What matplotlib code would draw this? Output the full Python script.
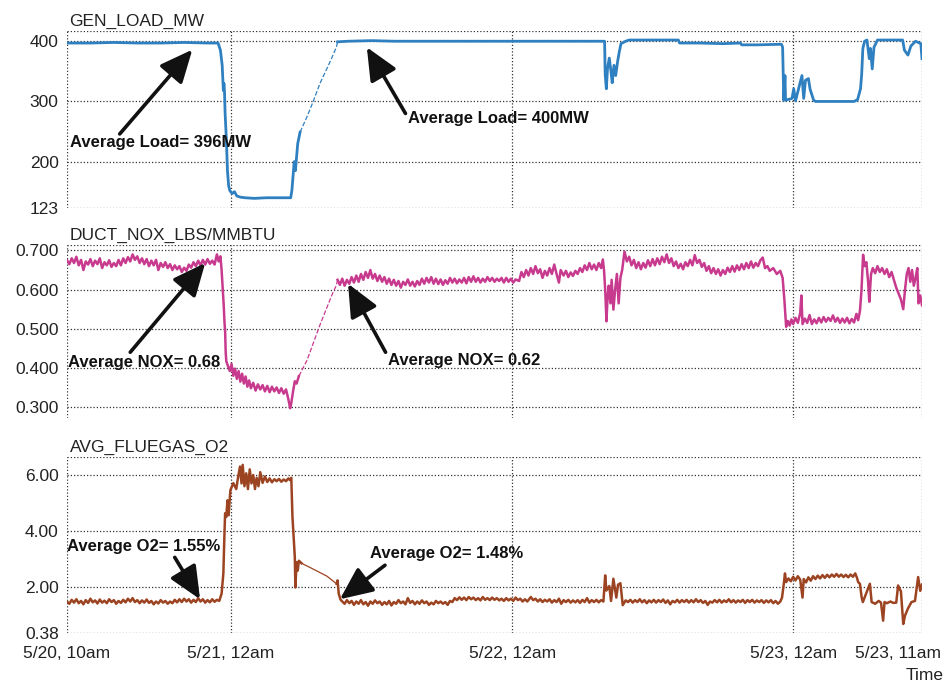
import numpy as np
import matplotlib
matplotlib.use("Agg")
import matplotlib.pyplot as plt
from matplotlib.transforms import ScaledTranslation

plt.rcParams['font.family'] = ['Liberation Sans', 'DejaVu Sans']

# hours since 5/20 10am
time_ticks = [0, 14, 38, 62, 73]
time_labels = ['5/20, 10am', '5/21, 12am', '5/22, 12am', '5/23, 12am', '5/23, 11am']

# ---- GEN_LOAD_MW ----
load_h = [0, 2, 4, 6, 8, 10, 12, 12.9, 13.1, 13.25, 13.35, 13.4, 13.45, 13.5, 13.6, 13.7, 13.8, 13.9,
          14.1, 14.3, 14.5, 14.8, 15.2, 16, 17, 18, 19.1, 19.2, 19.4, 19.5, 19.7, 19.9,
          20.5, 21.0, 21.6, 22.2, 22.6, 23.0, 23.1,
          24, 26, 28, 30, 32, 34, 36, 38, 40, 42, 44, 45.9,
          45.95, 46.05, 46.15, 46.3, 46.45, 46.55, 46.7, 46.85, 47.0, 47.15, 47.3, 47.7, 48, 50, 52.2,
          52.3, 54, 56, 57.5, 57.6, 59, 61.0, 61.1, 61.2, 61.3, 61.35, 61.9, 62.05, 62.2, 62.75, 62.9,
          63.05, 63.3, 63.45, 63.75, 63.9, 65, 66, 67.2, 67.5, 67.75, 67.85, 67.95, 68.1, 68.3, 68.5,
          68.6, 68.75, 68.9, 69.2, 71, 71.35, 71.5, 71.8, 72.05, 72.45, 72.9, 73.0]
load_mw = [397, 397, 398, 397, 397, 398, 397, 397, 385, 360, 318, 330, 316, 280, 240, 185, 160, 152,
           147, 150, 143, 141, 140, 139, 140, 140, 140, 152, 200, 185, 230, 249,
           275, 299, 330, 355, 372, 390, 399,
           400, 401, 400, 400, 400, 400, 400, 400, 400, 400, 400, 400,
           345, 321, 355, 372, 349, 331, 360, 343, 365, 382, 396, 400, 402, 402, 402,
           397, 397, 396, 397, 394, 394, 395, 390, 302, 343, 302, 305, 321, 301, 343, 305,
           335, 338, 320, 302, 300, 300, 300, 300, 303, 321, 345, 388, 400, 402, 371,
           388, 354, 390, 402, 402, 402, 385, 377, 392, 400, 396, 371]

# ---- DUCT_NOX_LBS/MMBTU ----
nox_h = [0, 0.2, 0.4, 0.6, 0.8, 1.0, 1.2, 1.4, 1.6, 1.8, 2.0, 2.2, 2.4, 2.6, 2.8, 3.0, 3.2, 3.4, 3.6, 3.8,
         4.0, 4.2, 4.4, 4.6, 4.8, 5.0, 5.2, 5.4, 5.6, 5.8, 6.0, 6.2, 6.4, 6.6, 6.8, 7.0, 7.2, 7.4, 7.6, 7.8,
         8.0, 8.2, 8.4, 8.6, 8.8, 9.0, 9.2, 9.4, 9.6, 9.8, 10.0, 10.2, 10.4, 10.6, 10.8, 11.0, 11.2, 11.4,
         11.6, 11.8, 12.0, 12.2, 12.4, 12.6, 12.8, 12.95, 13.1, 13.2, 13.3, 13.38, 13.45, 13.5, 13.55, 13.6,
         13.75, 13.9, 14.05, 14.2, 14.35, 14.5, 14.65, 14.8, 14.95, 15.1, 15.25, 15.4, 15.55, 15.7, 15.9,
         16.1, 16.3, 16.5, 16.7, 16.9, 17.1, 17.3, 17.5, 17.7, 17.9, 18.1, 18.3, 18.5, 18.7, 18.9, 19.05,
         19.15, 19.3, 19.45, 19.6, 19.8,
         20.5, 21.0, 21.6, 22.2, 22.6, 23.0, 23.1,
         23.3, 23.5, 23.7, 23.9, 24.1, 24.3, 24.5, 24.7, 24.9, 25.1, 25.3, 25.5, 25.7, 25.9, 26.1, 26.3,
         26.5, 26.7, 26.9, 27.1, 27.3, 27.5, 27.7, 27.9, 28.1, 28.3, 28.5, 28.7, 28.9, 29.1, 29.3, 29.5,
         29.7, 29.9, 30.1, 30.3, 30.5, 30.7, 30.9, 31.1, 31.3, 31.5, 31.7, 31.9, 32.1, 32.3, 32.5, 32.7,
         32.9, 33.1, 33.3, 33.5, 33.7, 33.9, 34.1, 34.3, 34.5, 34.7, 34.9, 35.1, 35.3, 35.5, 35.7, 35.9,
         36.1, 36.3, 36.5, 36.7, 36.9, 37.1, 37.3, 37.5, 37.7, 37.9, 38.1, 38.3, 38.6, 38.8, 39.0, 39.2,
         39.4, 39.6, 39.8, 40.0, 40.2, 40.4, 40.6, 40.8, 41.0, 41.2, 41.4, 41.6, 41.8, 42.0, 42.15, 42.4,
         42.6, 42.8, 43.0, 43.2, 43.4, 43.6, 43.8, 44.0, 44.2, 44.4, 44.6, 44.8, 45.0, 45.2, 45.4, 45.6,
         45.75, 45.85, 45.95, 46.06, 46.15, 46.25, 46.4, 46.5, 46.65, 46.8, 46.95, 47.1, 47.25, 47.4, 47.6,
         47.8, 48.0, 48.2, 48.4, 48.6, 48.8, 49.0, 49.2, 49.4, 49.6, 49.8, 50.0, 50.2, 50.4, 50.6, 50.8,
         51.0, 51.2, 51.4, 51.6, 51.8, 52.0, 52.2, 52.4, 52.6, 52.8, 53.0, 53.2, 53.4, 53.6, 53.8, 54.0,
         54.2, 54.4, 54.6, 54.8, 55.0, 55.2, 55.4, 55.6, 55.8, 56.0, 56.2, 56.4, 56.6, 56.8, 57.0, 57.2,
         57.4, 57.6, 57.8, 58.0, 58.2, 58.4, 58.6, 58.8, 59.0, 59.2, 59.4, 59.6, 59.8, 60.0, 60.3, 60.6,
         60.9, 61.1, 61.25, 61.4, 61.55, 61.7, 61.85, 62.0, 62.2, 62.4, 62.6, 62.7, 62.8, 63.0, 63.2, 63.4,
         63.6, 63.8, 64.0, 64.2, 64.4, 64.6, 64.8, 65.0, 65.2, 65.4, 65.6, 65.8, 66.0, 66.2, 66.4, 66.6,
         66.8, 67.0, 67.2, 67.4, 67.55, 67.7, 67.83, 67.97, 68.1, 68.25, 68.4, 68.5, 68.65, 68.8, 69.0,
         69.2, 69.4, 69.6, 69.8, 70.0, 70.2, 70.4, 70.6, 70.8, 71.0, 71.2, 71.4, 71.55, 71.7, 71.85, 72.0,
         72.15, 72.3, 72.45, 72.6, 72.7, 72.85, 73.0]
nox_val = [0.675, 0.665, 0.680, 0.668, 0.684, 0.662, 0.676, 0.650, 0.672, 0.664, 0.678, 0.660, 0.674, 0.665,
           0.680, 0.655, 0.670, 0.662, 0.675, 0.658, 0.668, 0.660, 0.676, 0.662, 0.680, 0.668, 0.683, 0.672,
           0.690, 0.676, 0.685, 0.668, 0.680, 0.665, 0.678, 0.660, 0.674, 0.662, 0.676, 0.650, 0.668, 0.658,
           0.670, 0.655, 0.665, 0.650, 0.662, 0.652, 0.660, 0.645, 0.656, 0.648, 0.664, 0.656, 0.670, 0.660,
           0.674, 0.662, 0.676, 0.664, 0.678, 0.666, 0.674, 0.664, 0.690, 0.672, 0.685, 0.650, 0.600, 0.560,
           0.515, 0.494, 0.440, 0.417, 0.404, 0.392, 0.410, 0.380, 0.398, 0.372, 0.392, 0.365, 0.385, 0.360,
           0.378, 0.352, 0.368, 0.348, 0.362, 0.342, 0.358, 0.345, 0.356, 0.340, 0.354, 0.338, 0.352, 0.340,
           0.350, 0.336, 0.348, 0.334, 0.345, 0.320, 0.297, 0.310, 0.340, 0.366, 0.360, 0.379,
           0.420, 0.461, 0.510, 0.555, 0.585, 0.611, 0.625,
           0.612, 0.628, 0.610, 0.625, 0.615, 0.632, 0.618, 0.636, 0.620, 0.640, 0.625, 0.645, 0.630, 0.650,
           0.628, 0.640, 0.622, 0.636, 0.620, 0.632, 0.615, 0.628, 0.612, 0.625, 0.610, 0.622, 0.605, 0.620,
           0.612, 0.626, 0.610, 0.620, 0.608, 0.622, 0.612, 0.628, 0.615, 0.630, 0.618, 0.632, 0.615, 0.628,
           0.614, 0.626, 0.612, 0.624, 0.615, 0.630, 0.618, 0.628, 0.616, 0.626, 0.618, 0.630, 0.616, 0.632,
           0.620, 0.634, 0.620, 0.630, 0.618, 0.628, 0.620, 0.632, 0.622, 0.630, 0.620, 0.628, 0.622, 0.630,
           0.618, 0.630, 0.620, 0.628, 0.618, 0.626, 0.622, 0.645, 0.632, 0.650, 0.636, 0.655, 0.640, 0.660,
           0.642, 0.652, 0.630, 0.648, 0.636, 0.655, 0.640, 0.664, 0.640, 0.618, 0.650, 0.636, 0.648, 0.632,
           0.644, 0.635, 0.648, 0.640, 0.655, 0.645, 0.662, 0.650, 0.668, 0.652, 0.664, 0.650, 0.668, 0.655,
           0.677, 0.650, 0.600, 0.519, 0.579, 0.610, 0.565, 0.625, 0.549, 0.600, 0.640, 0.565, 0.630, 0.650,
           0.697, 0.672, 0.684, 0.662, 0.676, 0.655, 0.670, 0.652, 0.668, 0.656, 0.675, 0.660, 0.678, 0.662,
           0.680, 0.665, 0.684, 0.670, 0.690, 0.668, 0.680, 0.660, 0.672, 0.655, 0.666, 0.652, 0.670, 0.660,
           0.676, 0.662, 0.688, 0.668, 0.676, 0.658, 0.668, 0.648, 0.660, 0.642, 0.655, 0.640, 0.652, 0.636,
           0.650, 0.640, 0.656, 0.645, 0.660, 0.646, 0.662, 0.650, 0.665, 0.652, 0.668, 0.655, 0.672, 0.656,
           0.668, 0.660, 0.675, 0.682, 0.655, 0.660, 0.648, 0.655, 0.640, 0.648, 0.630, 0.574, 0.505, 0.520,
           0.508, 0.524, 0.512, 0.528, 0.515, 0.540, 0.585, 0.512, 0.526, 0.515, 0.535, 0.512, 0.524, 0.514,
           0.528, 0.516, 0.530, 0.518, 0.528, 0.520, 0.534, 0.518, 0.528, 0.515, 0.526, 0.516, 0.528, 0.514,
           0.525, 0.516, 0.538, 0.522, 0.545, 0.596, 0.689, 0.660, 0.670, 0.620, 0.569, 0.640, 0.655, 0.642,
           0.660, 0.645, 0.655, 0.640, 0.652, 0.632, 0.645, 0.625, 0.605, 0.590, 0.575, 0.550, 0.600, 0.640,
           0.655, 0.620, 0.650, 0.610, 0.630, 0.655, 0.565, 0.585, 0.560]

# ---- AVG_FLUEGAS_O2 ----
o2_h = [0, 0.2, 0.4, 0.6, 0.8, 1.0, 1.2, 1.4, 1.6, 1.8, 2.0, 2.2, 2.4, 2.6, 2.8, 3.0, 3.2, 3.4, 3.6, 3.8,
        4.0, 4.2, 4.4, 4.6, 4.8, 5.0, 5.2, 5.4, 5.6, 5.8, 6.0, 6.2, 6.4, 6.6, 6.8, 7.0, 7.2, 7.4, 7.6, 7.8,
        8.0, 8.2, 8.4, 8.6, 8.8, 9.0, 9.2, 9.4, 9.6, 9.8, 10.0, 10.2, 10.4, 10.6, 10.8, 11.0, 11.2, 11.4,
        11.6, 11.8, 12.0, 12.2, 12.4, 12.6, 12.8, 13.0, 13.2, 13.35, 13.45, 13.5, 13.6, 13.7, 13.8, 13.95,
        14.2, 14.45, 14.6, 14.77, 14.9, 15.0, 15.15, 15.3, 15.45, 15.6, 15.75, 15.9, 16.05, 16.19, 16.35,
        16.5, 16.7, 16.9, 17.1, 17.3, 17.5, 17.7, 17.9, 18.1, 18.3, 18.5, 18.7, 18.9, 19.03, 19.15, 19.25,
        19.35, 19.45, 19.5, 19.6, 19.7, 19.8, 20.03,
        20.8, 21.5, 22.2, 22.8, 23.02,
        23.1, 23.2, 23.35, 23.5, 23.7, 23.9, 24.1, 24.3, 24.5, 24.7, 24.9, 25.1, 25.3, 25.5, 25.7, 25.9,
        26.1, 26.3, 26.5, 26.7, 26.9, 27.1, 27.3, 27.5, 27.7, 27.9, 28.1, 28.3, 28.5, 28.7, 28.9, 29.1,
        29.3, 29.5, 29.7, 29.9, 30.1, 30.3, 30.5, 30.7, 30.9, 31.1, 31.3, 31.5, 31.7, 31.9, 32.1, 32.3,
        32.5, 32.7, 32.9, 33.1, 33.3, 33.5, 33.7, 33.9, 34.1, 34.3, 34.5, 34.7, 34.9, 35.1, 35.3, 35.5,
        35.7, 35.9, 36.1, 36.3, 36.5, 36.7, 36.9, 37.1, 37.3, 37.5, 37.7, 37.9, 38.1, 38.3, 38.5, 38.7,
        38.9, 39.1, 39.3, 39.6, 39.8, 40.0, 40.2, 40.4, 40.6, 40.8, 41.0, 41.2, 41.4, 41.6, 41.8, 42.0,
        42.2, 42.4, 42.6, 42.8, 43.0, 43.2, 43.4, 43.6, 43.8, 44.0, 44.2, 44.4, 44.6, 44.8, 45.0, 45.2,
        45.4, 45.6, 45.8, 45.95, 46.05, 46.3, 46.45, 46.65, 46.9, 47.05, 47.25, 47.45, 47.7, 47.9, 48.1,
        48.3, 48.5, 48.7, 48.9, 49.1, 49.3, 49.5, 49.7, 49.9, 50.1, 50.3, 50.5, 50.7, 50.9, 51.1, 51.3,
        51.5, 51.7, 51.9, 52.1, 52.3, 52.5, 52.7, 52.9, 53.1, 53.3, 53.5, 53.7, 53.9, 54.1, 54.3, 54.5,
        54.7, 54.9, 55.1, 55.3, 55.5, 55.7, 55.9, 56.1, 56.3, 56.5, 56.7, 56.9, 57.1, 57.3, 57.5, 57.7,
        57.9, 58.1, 58.3, 58.5, 58.7, 58.9, 59.1, 59.3, 59.5, 59.7, 59.9, 60.1, 60.3, 60.5, 60.7, 60.9,
        61.05, 61.2, 61.3, 61.4, 61.6, 61.8, 62.0, 62.2, 62.4, 62.6, 62.8, 62.9, 63.1, 63.3, 63.5, 63.7,
        63.9, 64.1, 64.3, 64.5, 64.7, 64.9, 65.1, 65.3, 65.5, 65.7, 65.9, 66.1, 66.3, 66.5, 66.7, 66.9,
        67.1, 67.3, 67.45, 67.55, 67.7, 67.85, 67.95, 68.2, 68.55, 68.7, 69.0, 69.3, 69.5, 69.68, 69.8,
        70.0, 70.3, 70.55, 70.8, 70.96, 71.2, 71.4, 71.55, 71.8, 72.1, 72.4, 72.67, 72.85, 73.0]
o2_val = [1.50, 1.42, 1.56, 1.46, 1.58, 1.44, 1.52, 1.40, 1.55, 1.45, 1.60, 1.47, 1.54, 1.43, 1.57, 1.46,
          1.53, 1.44, 1.58, 1.48, 1.55, 1.42, 1.52, 1.45, 1.56, 1.47, 1.60, 1.50, 1.62, 1.48, 1.55, 1.44,
          1.54, 1.46, 1.57, 1.45, 1.52, 1.40, 1.50, 1.43, 1.55, 1.46, 1.52, 1.42, 1.50, 1.44, 1.56, 1.47,
          1.58, 1.48, 1.60, 1.50, 1.58, 1.46, 1.56, 1.48, 1.62, 1.50, 1.58, 1.46, 1.55, 1.47, 1.58, 1.49,
          1.56, 1.52, 1.78, 2.50, 4.00, 4.64, 4.51, 5.10, 4.57, 5.46, 5.71, 5.50, 5.90, 6.30, 5.70, 6.36,
          5.60, 6.06, 5.50, 6.20, 5.70, 6.00, 5.50, 5.90, 5.60, 6.10, 5.72, 5.95, 5.75, 5.88, 5.74, 5.85,
          5.78, 5.86, 5.76, 5.84, 5.78, 5.88, 5.82, 5.90, 4.50, 3.80, 3.08, 2.00, 2.90, 2.60, 2.95, 2.86,
          2.70, 2.55, 2.40, 2.20, 2.13,
          2.25, 1.78, 1.57, 1.50, 1.42, 1.55, 1.44, 1.52, 1.38, 1.50, 1.42, 1.55, 1.40, 1.48, 1.35, 1.50,
          1.42, 1.54, 1.44, 1.50, 1.38, 1.48, 1.40, 1.52, 1.36, 1.48, 1.42, 1.55, 1.44, 1.50, 1.40, 1.62,
          1.45, 1.52, 1.40, 1.50, 1.42, 1.54, 1.44, 1.50, 1.38, 1.46, 1.40, 1.52, 1.44, 1.50, 1.42, 1.48,
          1.38, 1.52, 1.48, 1.62, 1.55, 1.65, 1.56, 1.64, 1.55, 1.66, 1.58, 1.64, 1.55, 1.62, 1.54, 1.66,
          1.56, 1.62, 1.55, 1.64, 1.56, 1.62, 1.54, 1.60, 1.52, 1.62, 1.54, 1.60, 1.52, 1.64, 1.55, 1.60,
          1.50, 1.58, 1.50, 1.66, 1.55, 1.60, 1.50, 1.58, 1.48, 1.56, 1.50, 1.58, 1.46, 1.55, 1.48, 1.60,
          1.42, 1.55, 1.48, 1.56, 1.46, 1.54, 1.47, 1.55, 1.45, 1.56, 1.48, 1.62, 1.46, 1.55, 1.48, 1.56,
          1.47, 1.55, 1.50, 2.43, 1.89, 2.05, 1.52, 2.31, 1.64, 2.10, 2.15, 1.37, 1.54, 1.48, 1.56,
          1.46, 1.55, 1.48, 1.58, 1.47, 1.55, 1.44, 1.54, 1.47, 1.56, 1.46, 1.55, 1.48, 1.57, 1.45, 1.54,
          1.40, 1.52, 1.47, 1.56, 1.46, 1.55, 1.48, 1.56, 1.46, 1.55, 1.47, 1.58, 1.48, 1.55, 1.45, 1.52,
          1.38, 1.50, 1.46, 1.55, 1.47, 1.56, 1.46, 1.54, 1.48, 1.58, 1.47, 1.55, 1.46, 1.54, 1.48, 1.56,
          1.45, 1.55, 1.48, 1.56, 1.46, 1.54, 1.48, 1.55, 1.45, 1.54, 1.47, 1.55, 1.44, 1.52, 1.42, 1.50,
          1.64, 2.13, 2.50, 2.19, 2.32, 2.22, 2.38, 2.25, 2.40, 2.28, 1.64, 2.30, 2.18, 2.36, 2.24, 2.40,
          2.30, 2.42, 2.32, 2.44, 2.34, 2.45, 2.36, 2.46, 2.38, 2.48, 2.38, 2.46, 2.37, 2.45, 2.36, 2.46,
          2.38, 2.50, 2.34, 2.19, 2.13, 1.64, 1.48, 1.75, 2.13, 1.48, 1.42, 1.52, 1.46, 0.82, 1.48,
          1.44, 1.50, 1.45, 1.46, 2.07, 1.86, 0.70, 1.00, 1.25, 1.48, 1.52, 2.37, 1.88, 2.10]

panels = [
    dict(h=load_h, v=load_mw, color='#2F80C0', lw=2.0, ramp=(19.9, 23.1), ramp_ls='--',
         ylim=(123, 417), ticks=[123, 200, 300, 400], labels=['123', '200', '300', '400'],
         title='GEN_LOAD_MW', top=31, bottom=208),
    dict(h=nox_h, v=nox_val, color='#C73A8E', lw=1.8, ramp=(19.8, 23.1), ramp_ls='--',
         ylim=(0.272, 0.714), ticks=[0.3, 0.4, 0.5, 0.6, 0.7],
         labels=['0.300', '0.400', '0.500', '0.600', '0.700'],
         title='DUCT_NOX_LBS/MMBTU', top=245, bottom=418),
    dict(h=o2_h, v=o2_val, color='#9C4422', lw=1.8, ramp=(20.03, 23.02), ramp_ls='-',
         ylim=(0.38, 6.64), ticks=[0.38, 2, 4, 6], labels=['0.38', '2.00', '4.00', '6.00'],
         title='AVG_FLUEGAS_O2', top=457, bottom=633),
]

W, H = 946, 687
fig = plt.figure(figsize=(W / 100, H / 100), dpi=100)
grid_kw = dict(color='#333333', lw=0.9, ls=(0, (1, 1.6)))
axes = []
for p in panels:
    ax = fig.add_axes([67 / W, 1 - p['bottom'] / H, (922 - 67) / W, (p['bottom'] - p['top']) / H])
    h = np.array(p['h'])
    v = np.array(p['v'])
    r0, r1 = p['ramp']
    a = h <= r0
    b = (h >= r0) & (h <= r1)
    c = h >= r1
    ax.plot(h[a], v[a], color=p['color'], lw=p['lw'])
    ax.plot(h[b], v[b], color=p['color'], lw=0.9, ls=p['ramp_ls'])
    ax.plot(h[c], v[c], color=p['color'], lw=p['lw'])
    ax.set_xlim(0, 73)
    ax.set_ylim(*p['ylim'])
    ax.set_yticks(p['ticks'])
    ax.set_yticklabels(p['labels'])
    ax.set_xticks(time_ticks)
    for y in p['ticks']:
        ax.axhline(y, zorder=0, **grid_kw)
    ax.axhline(p['ylim'][1], zorder=0, **grid_kw)
    for x in time_ticks:
        ax.axvline(x, zorder=0, **grid_kw)
    for s in ax.spines.values():
        s.set_visible(False)
    ax.tick_params(length=0, labelsize=12.5, colors='#222222', pad=6)
    ax.text(0.003, 1.012, p['title'], transform=ax.transAxes, fontsize=12.5, color='#222222',
            va='bottom', ha='left')
    axes.append(ax)

for ax in axes[:-1]:
    ax.set_xticklabels([])
axes[-1].set_xticklabels(time_labels)
axes[-1].tick_params(axis='x', pad=9)
last = axes[-1].get_xticklabels()[-1]
last.set_transform(last.get_transform() + ScaledTranslation(-0.24, 0, fig.dpi_scale_trans))

fig.text(0.998, 1 - 676 / H, 'Time', ha='right', va='center', fontsize=12.5, color='#222222')

ann_font = dict(fontsize=12, fontweight='bold', color='#111111', va='center', ha='left')
arrow_kw = dict(arrowstyle='-|>,head_length=1.0,head_width=0.45', lw=2.6, color='#111111',
                mutation_scale=20, shrinkA=0, shrinkB=0)

notes = [
    (0, 'Average Load= 396MW', (0.26, 231), (10.7, 386), (4.5, 246)),
    (0, 'Average Load= 400MW', (29.1, 271), (25.6, 390), (28.9, 280)),
    (1, 'Average NOX= 0.68', (0.1, 0.415), (11.8, 0.668), (5.4, 0.44)),
    (1, 'Average NOX= 0.62', (27.4, 0.42), (24.0, 0.615), (27.2, 0.44)),
    (2, 'Average O2= 1.55%', (0.0, 3.46), (11.36, 1.58), (9.2, 3.07)),
    (2, 'Average O2= 1.48%', (25.9, 3.21), (23.3, 1.58), (27.15, 2.79)),
]
for i, txt, tpos, tip, tail in notes:
    ax = axes[i]
    ax.annotate('', xy=tip, xytext=tail, arrowprops=arrow_kw)
    ax.text(tpos[0], tpos[1], txt, **ann_font)

fig.savefig('out.png', dpi=100)
